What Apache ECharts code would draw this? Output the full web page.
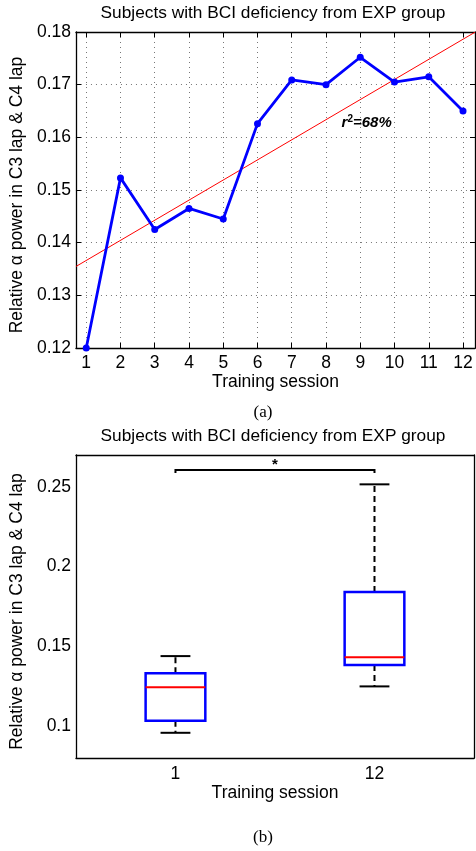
<!DOCTYPE html>
<html>
<head>
<meta charset="utf-8">
<script src="https://cdn.jsdelivr.net/npm/echarts@6/dist/echarts.min.js"></script>
<style>
html, body { margin: 0; padding: 0; background: #fff; }
#main { width: 476px; height: 851px; }
</style>
</head>
<body>
<div id="main"></div>
<script>
// (a) relative alpha power per training session
var sessions = [1, 2, 3, 4, 5, 6, 7, 8, 9, 10, 11, 12];
var alphaPower = [0.1200, 0.1523, 0.1425, 0.1465, 0.1445, 0.1626, 0.1709, 0.1700, 0.1752, 0.1705, 0.1715, 0.1650];
var fitLabel = '=68%';

// (b) box plot, session 1 vs session 12: [min, q1, median, q3, max]
var boxCategories = ['1', '12'];
var boxSession1 = [0.0958, 0.1033, 0.1243, 0.1331, 0.1439];
var boxSession12 = [0.1249, 0.1383, 0.1431, 0.1841, 0.2516];
var boxTicks = [0.1, 0.15, 0.2, 0.25];
var sigLevel = 0.2606;

var titleText = 'Subjects with BCI deficiency from EXP group';
var yName = 'Relative α power in C3 lap & C4 lap';
var xName = 'Training session';

var font = 'Liberation Sans, Arial, Helvetica, sans-serif';
var xMin = 0.7, xMax = 12.35;

// least squares fit of the session data
var n = sessions.length, mx = 0, my = 0;
sessions.forEach(function (s, i) { mx += s / n; my += alphaPower[i] / n; });
var sxy = 0, sxx = 0;
sessions.forEach(function (s, i) { sxy += (s - mx) * (alphaPower[i] - my); sxx += (s - mx) * (s - mx); });
var slope = sxy / sxx, icpt = my - slope * mx;
var fitLine = [[xMin, icpt + slope * xMin], [xMax, icpt + slope * xMax]];

var dom = document.getElementById('main');
var myChart = echarts.init(dom);

var blackLine = { lineStyle: { color: '#000', width: 1.3 } };
var tickIn = { inside: true, length: 5, lineStyle: { color: '#000', width: 1 } };
var dotted = { show: true, lineStyle: { type: [1, 4], color: '#777', width: 1 } };
var lbl = { color: '#000', fontSize: 17.5, fontFamily: font };
// y names sit a little below the grid middle, like the original
var yNameStyle = Object.assign({ padding: [0, 10, 0, 0] }, lbl);

option = {
    animation: false,
    backgroundColor: '#fff',
    graphic: [
        { type: 'text', x: 273, y: 13, style: { text: titleText, font: '17.3px ' + font, fill: '#000', textAlign: 'center', textVerticalAlign: 'middle' } },
        { type: 'text', x: 263, y: 413, style: { text: '(a)', font: '17px Liberation Serif, Times New Roman, serif', fill: '#000', textAlign: 'center', textVerticalAlign: 'middle' } },
        { type: 'text', x: 273, y: 436, style: { text: titleText, font: '17.3px ' + font, fill: '#000', textAlign: 'center', textVerticalAlign: 'middle' } },
        { type: 'text', x: 263, y: 838, style: { text: '(b)', font: '17px Liberation Serif, Times New Roman, serif', fill: '#000', textAlign: 'center', textVerticalAlign: 'middle' } }
    ],
    grid: [
        { left: 72, top: 32, width: 403, height: 316 },
        { left: 73, top: 455, width: 401, height: 303 }
    ],
    xAxis: [
        {
            gridIndex: 0, type: 'value', min: xMin, max: xMax, position: 'bottom',
            axisLine: blackLine,
            axisTick: Object.assign({ customValues: sessions }, tickIn),
            axisLabel: Object.assign({ customValues: sessions, margin: 6 }, lbl),
            splitLine: dotted,
            name: xName, nameLocation: 'middle', nameGap: 25,
            nameTextStyle: lbl
        },
        {
            gridIndex: 0, type: 'value', min: xMin, max: xMax, position: 'top',
            axisLine: blackLine,
            axisTick: Object.assign({ customValues: sessions }, tickIn),
            axisLabel: { show: false }, splitLine: { show: false }
        },
        {
            gridIndex: 1, type: 'category', data: boxCategories, position: 'bottom',
            axisLine: blackLine,
            axisTick: Object.assign({ alignWithLabel: true }, tickIn),
            axisLabel: Object.assign({ margin: 7 }, lbl),
            splitLine: { show: false },
            name: xName, nameLocation: 'middle', nameGap: 25,
            nameTextStyle: lbl
        },
        {
            gridIndex: 1, type: 'category', data: boxCategories, position: 'top',
            axisLine: blackLine,
            axisTick: Object.assign({ alignWithLabel: true }, tickIn),
            axisLabel: { show: false }, splitLine: { show: false }
        }
    ],
    yAxis: [
        {
            gridIndex: 0, type: 'value', min: 0.12, max: 0.18, interval: 0.01, position: 'left',
            axisLine: Object.assign({ show: true }, blackLine),
            axisTick: tickIn,
            axisLabel: Object.assign({ margin: 5, formatter: function (v) { return v.toFixed(2); } }, lbl),
            splitLine: dotted,
            name: yName, nameLocation: 'middle', nameGap: 38,
            nameTextStyle: yNameStyle
        },
        {
            gridIndex: 0, type: 'value', min: 0.12, max: 0.18, interval: 0.01, position: 'right',
            axisLine: Object.assign({ show: true }, blackLine),
            axisTick: tickIn,
            axisLabel: { show: false }, splitLine: { show: false }
        },
        {
            gridIndex: 1, type: 'value', min: 0.08, max: 0.27, position: 'left',
            axisLine: Object.assign({ show: true }, blackLine),
            axisTick: Object.assign({ customValues: boxTicks }, tickIn),
            axisLabel: Object.assign({ customValues: boxTicks, margin: 5 }, lbl),
            splitLine: { show: false },
            name: yName, nameLocation: 'middle', nameGap: 39,
            nameTextStyle: yNameStyle
        },
        {
            gridIndex: 1, type: 'value', min: 0.08, max: 0.27, position: 'right',
            axisLine: Object.assign({ show: true }, blackLine),
            axisTick: Object.assign({ customValues: boxTicks }, tickIn),
            axisLabel: { show: false }, splitLine: { show: false }
        }
    ],
    series: [
        {
            name: 'fit',
            type: 'line',
            xAxisIndex: 0, yAxisIndex: 0,
            data: fitLine,
            symbol: 'none',
            lineStyle: { color: '#ff0000', width: 1 },
            markPoint: {
                symbol: 'circle',
                symbolSize: 1,
                itemStyle: { color: 'rgba(0,0,0,0)' },
                data: [{ coord: [8.44, 0.1627] }],
                label: {
                    show: true, position: 'right', distance: 0,
                    formatter: '{r|r}{s|2}{t|' + fitLabel + '}',
                    rich: {
                        r: { fontSize: 15, fontWeight: 'bold', fontStyle: 'italic', fontFamily: font, color: '#000' },
                        s: { fontSize: 10, fontWeight: 'bold', fontFamily: font, color: '#000', verticalAlign: 'top', padding: [0, 0, 8, 0] },
                        t: { fontSize: 15, fontWeight: 'bold', fontStyle: 'italic', fontFamily: font, color: '#000' }
                    }
                }
            }
        },
        {
            name: 'power',
            type: 'line',
            xAxisIndex: 0, yAxisIndex: 0,
            data: sessions.map(function (s, i) { return [s, alphaPower[i]]; }),
            symbol: 'circle', symbolSize: 7,
            itemStyle: { color: '#0000ff' },
            lineStyle: { color: '#0000ff', width: 2.8 },
            clip: false
        },
        {
            name: 'box',
            type: 'custom',
            xAxisIndex: 2, yAxisIndex: 2,
            data: [[0].concat(boxSession1), [1].concat(boxSession12)],
            encode: { x: 0, y: [1, 2, 3, 4, 5] },
            renderItem: function (params, api) {
                var idx = api.value(0);
                var bw = api.size([1, 0])[0] * 0.3;
                var pMin = api.coord([idx, api.value(1)]);
                var pQ1 = api.coord([idx, api.value(2)]);
                var pMed = api.coord([idx, api.value(3)]);
                var pQ3 = api.coord([idx, api.value(4)]);
                var pMax = api.coord([idx, api.value(5)]);
                var cx = pMin[0];
                var dash = { stroke: '#000', lineWidth: 2, lineDash: [6, 4], fill: null };
                var solid = { stroke: '#000', lineWidth: 2, fill: null };
                return {
                    type: 'group',
                    children: [
                        { type: 'line', shape: { x1: cx, y1: pQ3[1], x2: cx, y2: pMax[1] }, style: dash },
                        { type: 'line', shape: { x1: cx, y1: pQ1[1], x2: cx, y2: pMin[1] }, style: dash },
                        { type: 'line', shape: { x1: cx - bw / 4, y1: pMax[1], x2: cx + bw / 4, y2: pMax[1] }, style: solid },
                        { type: 'line', shape: { x1: cx - bw / 4, y1: pMin[1], x2: cx + bw / 4, y2: pMin[1] }, style: solid },
                        { type: 'rect', shape: { x: cx - bw / 2, y: pQ3[1], width: bw, height: pQ1[1] - pQ3[1] }, style: { stroke: '#0000ff', lineWidth: 2.5, fill: null } },
                        { type: 'line', shape: { x1: cx - bw / 2, y1: pMed[1], x2: cx + bw / 2, y2: pMed[1] }, style: { stroke: '#ff0000', lineWidth: 2 } }
                    ]
                };
            }
        },
        {
            name: 'significance',
            type: 'custom',
            xAxisIndex: 2, yAxisIndex: 2,
            data: [[0, 1, sigLevel]],
            encode: { x: [0, 1], y: 2 },
            renderItem: function (params, api) {
                var a = api.coord([api.value(0), api.value(2)]);
                var b = api.coord([api.value(1), api.value(2)]);
                return {
                    type: 'group',
                    children: [
                        { type: 'polyline', shape: { points: [[a[0], a[1] + 3], a, b, [b[0], b[1] + 3]] }, style: { stroke: '#000', lineWidth: 2, fill: null } },
                        { type: 'text', x: (a[0] + b[0]) / 2, y: a[1] - 5, style: { text: '*', font: 'bold 15px ' + font, fill: '#000', align: 'center', verticalAlign: 'middle' } }
                    ]
                };
            }
        }
    ]
};

if (option && typeof option === 'object') {
    myChart.setOption(option, true);
    window.onresize = function () {
        myChart.resize();
    };
}
</script>
</body>
</html>
